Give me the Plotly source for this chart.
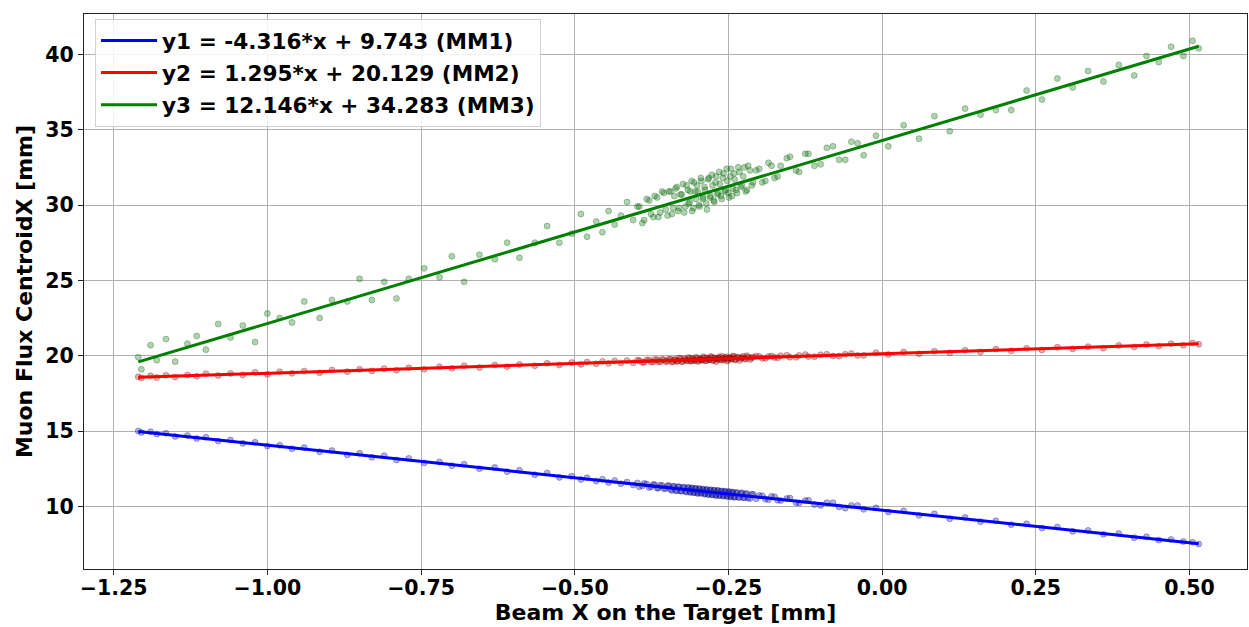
import plotly.graph_objects as go

# Beam X on target [mm] (shared by the three detectors)
beam_x_a = [
    -1.21, -1.205, -1.19, -1.18, -1.165, -1.15, -1.13, -1.115, -1.10, -1.08, -1.06, -1.04,
    -1.02, -1.00, -0.98, -0.96, -0.94, -0.915, -0.895, -0.87, -0.85, -0.83, -0.81, -0.79,
    -0.77, -0.745, -0.72, -0.70, -0.68, -0.655, -0.63, -0.61, -0.59, -0.565, -0.545, -0.525,
    -0.505, -0.49, -0.48, -0.465, -0.455, -0.445, -0.435, -0.425, -0.415, -0.405, -0.398, -0.39,
    -0.383, -0.376, -0.37, -0.364, -0.358, -0.352,
    -0.347, -0.342, -0.338, -0.334, -0.330, -0.326, -0.322, -0.318, -0.315, -0.312, -0.309,
    -0.306, -0.303, -0.300, -0.297, -0.294, -0.291, -0.288, -0.285, -0.282, -0.279, -0.276,
    -0.273, -0.270, -0.267, -0.264, -0.261, -0.258, -0.255, -0.252, -0.249, -0.246, -0.243,
    -0.240, -0.236, -0.232, -0.228, -0.224, -0.220, -0.215, -0.210,
    -0.20, -0.19, -0.18, -0.17, -0.155, -0.14, -0.125, -0.11, -0.09, -0.07, -0.05, -0.03,
    -0.01, 0.01, 0.035, 0.06, 0.085, 0.11, 0.135, 0.16, 0.185, 0.21, 0.235, 0.26,
    0.285, 0.31, 0.335, 0.36, 0.385, 0.41, 0.43, 0.45, 0.47, 0.49, 0.505, 0.515,
]
beam_x_b = [
    -0.395, -0.387, -0.379, -0.372, -0.366, -0.361, -0.355, -0.349, -0.344, -0.340,
    -0.336, -0.332, -0.328, -0.324, -0.320, -0.316, -0.313, -0.310, -0.307, -0.304,
    -0.301, -0.298, -0.295, -0.292, -0.289, -0.286, -0.283, -0.280, -0.277, -0.274,
    -0.271, -0.268, -0.265, -0.262, -0.259, -0.256, -0.253, -0.250, -0.247, -0.244,
    -0.241, -0.238, -0.234, -0.230, -0.226, -0.222, -0.218, -0.212, -0.205, -0.195,
    -0.185, -0.175, -0.165, -0.150, -0.135, -0.120, -0.100, -0.080, -0.060, -0.040,
]

# MM1 centroid X [mm]
mm1_y_a = [
    15.00, 14.90, 14.95, 14.80, 14.85, 14.64, 14.70, 14.50, 14.58, 14.33, 14.40, 14.18,
    14.25, 14.00, 14.05, 13.82, 13.90, 13.62, 13.70, 13.42, 13.52, 13.25, 13.36, 13.08,
    13.18, 12.88, 12.95, 12.70, 12.80, 12.50, 12.58, 12.30, 12.40, 12.10, 12.22, 11.92,
    12.00, 11.78, 11.90, 11.68, 11.80, 11.58, 11.72, 11.50, 11.62, 11.42, 11.55, 11.36,
    11.48, 11.30, 11.44, 11.22, 11.38, 11.18,
    11.38, 11.05, 11.32, 11.02, 11.30, 11.00, 11.26, 10.95, 11.25, 10.92, 11.22,
    10.90, 11.20, 10.85, 11.18, 10.88, 11.15, 10.80, 11.12, 10.78, 11.10, 10.76,
    11.08, 10.70, 11.06, 10.72, 11.02, 10.68, 11.00, 10.65, 10.98, 10.62, 10.95,
    10.60, 10.92, 10.58, 10.90, 10.56, 10.84, 10.52, 10.80,
    10.72, 10.48, 10.66, 10.40, 10.52, 10.24, 10.38, 10.12, 10.24, 9.96, 10.06, 9.80,
    9.90, 9.62, 9.70, 9.40, 9.50, 9.18, 9.26, 8.98, 9.04, 8.78, 8.84, 8.56,
    8.62, 8.34, 8.40, 8.14, 8.20, 7.92, 7.98, 7.76, 7.80, 7.66, 7.62, 7.50,
]
mm1_y_b = [
    11.30, 11.52, 11.25, 11.45, 11.20, 11.40, 11.16, 11.36, 11.12, 11.33,
    11.06, 11.30, 11.02, 11.26, 10.98, 11.24, 10.96, 11.20, 10.92, 11.18,
    10.90, 11.14, 10.86, 11.12, 10.84, 11.10, 10.80, 11.07, 10.78, 11.05,
    10.76, 11.02, 10.72, 11.00, 10.70, 10.98, 10.68, 10.95, 10.66, 10.93,
    10.62, 10.90, 10.60, 10.86, 10.58, 10.84, 10.55, 10.80, 10.50, 10.70,
    10.44, 10.64, 10.38, 10.55, 10.22, 10.40, 10.06, 10.24, 9.88, 10.06,
]

# MM2 centroid X [mm]
mm2_y_a = [
    18.60, 18.52, 18.66, 18.55, 18.70, 18.58, 18.72, 18.63, 18.80, 18.68, 18.82, 18.72,
    18.90, 18.76, 18.93, 18.83, 18.98, 18.86, 19.05, 18.94, 19.10, 18.99, 19.14, 19.03,
    19.20, 19.10, 19.27, 19.16, 19.33, 19.21, 19.38, 19.27, 19.42, 19.33, 19.50, 19.38,
    19.55, 19.42, 19.58, 19.46, 19.62, 19.49, 19.65, 19.52, 19.68, 19.53, 19.70, 19.55,
    19.72, 19.58, 19.75, 19.59, 19.76, 19.60,
    19.78, 19.58, 19.74, 19.62, 19.85, 19.60, 19.80, 19.66, 19.88, 19.63, 19.82,
    19.67, 19.90, 19.62, 19.79, 19.70, 19.93, 19.65, 19.84, 19.72, 19.95, 19.68,
    19.86, 19.60, 19.83, 19.74, 19.97, 19.70, 19.88, 19.64, 19.85, 19.77, 19.98,
    19.72, 19.90, 19.68, 19.87, 19.79, 20.00, 19.75, 19.92,
    19.95, 19.82, 19.98, 19.86, 20.03, 19.89, 20.07, 19.93, 20.10, 19.97, 20.14, 20.02,
    20.20, 20.08, 20.24, 20.13, 20.30, 20.19, 20.36, 20.25, 20.44, 20.32, 20.49, 20.38,
    20.56, 20.45, 20.60, 20.50, 20.68, 20.58, 20.74, 20.64, 20.80, 20.69, 20.84, 20.76,
]
mm2_y_b = [
    19.68, 19.56, 19.71, 19.58, 19.74, 19.60, 19.72, 19.63, 19.76, 19.61,
    19.73, 19.65, 19.79, 19.62, 19.75, 19.68, 19.81, 19.64, 19.77, 19.70,
    19.83, 19.66, 19.78, 19.72, 19.86, 19.67, 19.80, 19.74, 19.89, 19.69,
    19.82, 19.76, 19.91, 19.71, 19.84, 19.78, 19.93, 19.73, 19.87, 19.80,
    19.95, 19.75, 19.89, 19.82, 19.96, 19.78, 19.91, 19.84, 19.97, 19.83,
    19.95, 19.88, 20.00, 19.90, 20.02, 19.94, 20.06, 19.98, 20.10, 20.02,
]

# MM3 centroid X [mm]
mm3_y_a = [
    19.9, 19.1, 20.7, 19.7, 21.1, 19.6, 20.8, 21.3, 20.4, 22.1, 21.2, 22.0,
    20.9, 22.8, 22.5, 22.2, 23.6, 22.5, 23.7, 23.6, 25.1, 23.7, 24.9, 23.8,
    25.1, 25.8, 25.2, 26.6, 24.9, 26.7, 26.4, 27.5, 26.5, 27.5, 28.6, 27.5,
    28.1, 29.4, 27.9, 28.9, 28.2, 29.6, 28.7, 29.3, 30.2, 29.0, 29.9, 28.8,
    30.4, 29.4, 30.6, 29.2, 30.9, 29.7,
    30.9, 29.4, 30.6, 31.2, 29.8, 30.7, 29.5, 31.3, 30.1, 30.9, 29.6,
    31.5, 30.4, 30.9, 29.9, 31.6, 30.5, 31.0, 29.7, 31.8, 30.6, 31.3,
    30.2, 31.9, 30.8, 31.4, 30.4, 32.1, 31.0, 31.6, 30.5, 32.4, 31.1,
    31.7, 30.8, 32.2, 31.3, 32.5, 31.0, 32.3, 31.5,
    32.4, 31.6, 32.6, 31.9, 33.1, 32.3, 33.4, 32.6, 33.8, 33.0, 34.2, 33.3,
    34.6, 33.9, 35.3, 34.4, 35.9, 34.9, 36.4, 36.0, 36.3, 36.3, 37.6, 37.0,
    38.4, 37.8, 38.9, 38.2, 39.3, 38.6, 39.9, 39.5, 40.5, 39.9, 40.9, 40.4,
]
mm3_y_b = [
    29.9, 29.0, 30.3, 29.2, 30.5, 29.5, 30.8, 29.3, 30.9, 29.8,
    31.1, 29.6, 30.7, 31.4, 29.9, 31.0, 30.2, 31.6, 29.8, 30.9,
    31.3, 30.0, 31.8, 30.4, 31.2, 30.1, 31.7, 30.5, 32.0, 30.3,
    31.5, 30.7, 32.2, 30.6, 31.8, 30.9, 32.4, 30.8, 31.9, 30.6,
    32.1, 31.0, 32.5, 31.2, 31.9, 30.9, 32.6, 31.3, 32.3, 31.5,
    32.8, 31.8, 32.6, 33.2, 32.2, 33.4, 32.7, 33.9, 33.0, 34.1,
]

# Linear fit coefficients shown in the legend
fit_slopes = [-4.316, 1.295, 12.146]
fit_intercepts = [9.743, 20.129, 34.283]
fit_labels = ["y1 = -4.316*x + 9.743 (MM1)",
              "y2 = 1.295*x + 20.129 (MM2)",
              "y3 = 12.146*x + 34.283 (MM3)"]

beam_x = beam_x_a + beam_x_b
series_y = [mm1_y_a + mm1_y_b, mm2_y_a + mm2_y_b, mm3_y_a + mm3_y_b]
line_colors = ["#0000ff", "#ff0000", "#008000"]
point_colors = ["rgba(0,0,139,0.3)", "rgba(139,0,0,0.3)", "rgba(0,100,0,0.3)"]

x_ticks = [-1.25, -1.00, -0.75, -0.50, -0.25, 0.00, 0.25, 0.50]
y_ticks = [10, 15, 20, 25, 30, 35, 40]

FONT = "DejaVu Sans"
fig = go.Figure()

for ys, pc in zip(series_y, point_colors):
    fig.add_trace(go.Scatter(
        x=beam_x, y=ys, mode="markers", showlegend=False, hoverinfo="skip",
        marker=dict(size=6, color=pc, line=dict(color=pc, width=1)),
    ))

x_lo, x_hi = min(beam_x), max(beam_x)
for i, (a, b, lab, lc) in enumerate(zip(fit_slopes, fit_intercepts, fit_labels, line_colors)):
    fig.add_trace(go.Scatter(
        x=[x_lo, x_hi], y=[a * x_lo + b, a * x_hi + b], mode="lines", name=lab,
        legendgroup=f"g{i}", line=dict(color=lc, width=3),
    ))

axis_common = dict(
    showgrid=True, gridcolor="#b0b0b0", gridwidth=1,
    showline=True, linecolor="#222222", linewidth=1, mirror=True,
    ticks="outside", ticklen=5, tickcolor="#222222", zeroline=False,
    tickfont=dict(family=FONT, size=20.5, color="black", weight="bold"),
)

fig.update_layout(
    width=1249, height=627,
    margin=dict(l=84, r=2, t=14, b=58),
    paper_bgcolor="white", plot_bgcolor="white",
    font=dict(family=FONT, color="black"),
    xaxis=dict(range=[-1.2983, 0.5935], tickvals=x_ticks, tickformat=".2f",
               ticklabelstandoff=-5,
               title=dict(text="Beam X on the Target [mm]", standoff=2,
                          font=dict(family=FONT, size=22, color="black", weight="bold")),
               **axis_common),
    yaxis=dict(range=[5.84, 42.68], tickvals=y_ticks,
               title=dict(text="Muon Flux CentroidX [mm]", standoff=6,
                          font=dict(family=FONT, size=22, color="black", weight="bold")),
               **axis_common),
    legend=dict(x=0.0095, y=0.991, xanchor="left", yanchor="top",
                bgcolor="rgba(255,255,255,0.85)", bordercolor="#d0d0d0", borderwidth=1,
                font=dict(family=FONT, size=21.6, color="black", weight="bold"),
                itemwidth=56, tracegroupgap=1),
)

fig.write_html("out.html")
